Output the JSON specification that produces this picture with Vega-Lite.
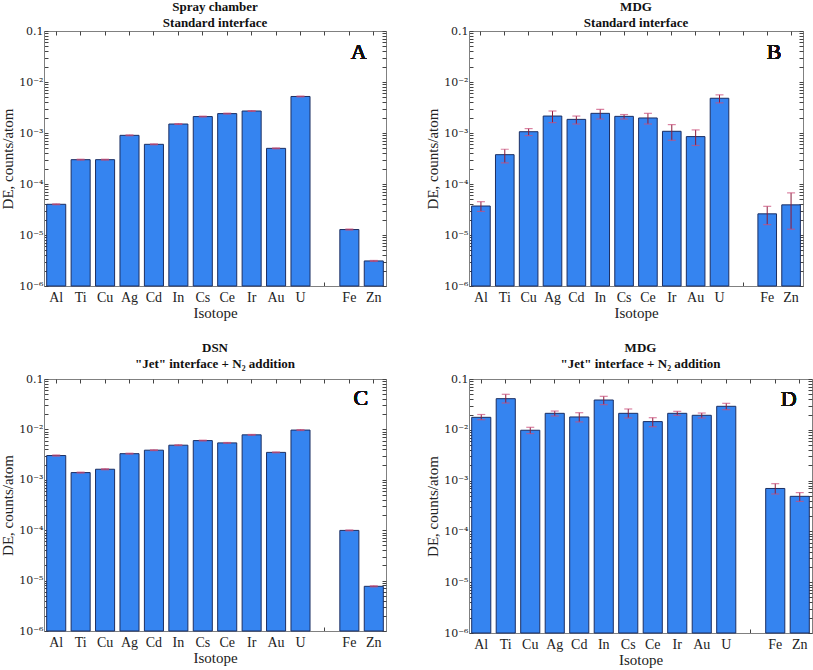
{
  "$schema": "https://vega.github.io/schema/vega-lite/v6.json",
  "background": "white",
  "padding": {"left": 0, "top": 0, "right": 0, "bottom": 2},
  "config": {
    "font": "Liberation Serif",
    "view": {"stroke": "#808080", "strokeWidth": 1},
    "axis": {
      "labelFont": "Liberation Serif", "titleFont": "Liberation Serif",
      "labelFontSize": 14, "titleFontSize": 15, "labelColor": "#222", "titleColor": "#222",
      "titleFontWeight": "normal", "grid": false,
      "domainColor": "#808080", "tickColor": "#444", "tickSize": -4, "labelPadding": 4
    },
    "axisX": {"labelPadding": 8},
    "axisY": {"labelFont": "DejaVu Serif", "labelFontSize": 11, "labelPadding": 5},
    "title": {"font": "Liberation Serif", "fontWeight": "bold", "fontSize": 13, "color": "#111", "offset": -5, "lineHeight": 16}
  },
  "datasets": {
    "A": [
      {"iso": "Al", "de": 0.00004, "lo": 0.0000392, "hi": 0.0000408},
      {"iso": "Ti", "de": 0.0003, "lo": 0.000294, "hi": 0.000306},
      {"iso": "Cu", "de": 0.0003, "lo": 0.000294, "hi": 0.000306},
      {"iso": "Ag", "de": 0.0009, "lo": 0.000882, "hi": 0.000918},
      {"iso": "Cd", "de": 0.0006, "lo": 0.000588, "hi": 0.000612},
      {"iso": "In", "de": 0.0015, "lo": 0.00147, "hi": 0.00153},
      {"iso": "Cs", "de": 0.0021, "lo": 0.00206, "hi": 0.00214},
      {"iso": "Ce", "de": 0.0024, "lo": 0.00235, "hi": 0.00245},
      {"iso": "Ir", "de": 0.0027, "lo": 0.00265, "hi": 0.00275},
      {"iso": "Au", "de": 0.0005, "lo": 0.00049, "hi": 0.00051},
      {"iso": "U", "de": 0.0052, "lo": 0.0051, "hi": 0.0053},
      {"iso": "Fe", "de": 0.0000128, "lo": 0.0000125, "hi": 0.0000131},
      {"iso": "Zn", "de": 0.0000031, "lo": 0.00000303, "hi": 0.00000317}
    ],
    "B": [
      {"iso": "Al", "de": 0.000037, "lo": 0.000029, "hi": 0.000045},
      {"iso": "Ti", "de": 0.000376, "lo": 0.00026, "hi": 0.00048},
      {"iso": "Cu", "de": 0.00106, "lo": 0.00089, "hi": 0.00122},
      {"iso": "Ag", "de": 0.00215, "lo": 0.0016, "hi": 0.0027},
      {"iso": "Cd", "de": 0.00185, "lo": 0.0015, "hi": 0.00215},
      {"iso": "In", "de": 0.00243, "lo": 0.00188, "hi": 0.0029},
      {"iso": "Cs", "de": 0.00212, "lo": 0.00188, "hi": 0.0023},
      {"iso": "Ce", "de": 0.00197, "lo": 0.0015, "hi": 0.00243},
      {"iso": "Ir", "de": 0.00108, "lo": 0.00072, "hi": 0.00146},
      {"iso": "Au", "de": 0.00085, "lo": 0.00057, "hi": 0.00115},
      {"iso": "U", "de": 0.0048, "lo": 0.0039, "hi": 0.0056},
      {"iso": "Fe", "de": 0.000026, "lo": 0.000016, "hi": 0.0000365},
      {"iso": "Zn", "de": 0.000039, "lo": 0.000013, "hi": 0.000067}
    ],
    "C": [
      {"iso": "Al", "de": 0.00303, "lo": 0.00295, "hi": 0.00311},
      {"iso": "Ti", "de": 0.00139, "lo": 0.00136, "hi": 0.00142},
      {"iso": "Cu", "de": 0.00162, "lo": 0.00158, "hi": 0.00166},
      {"iso": "Ag", "de": 0.0033, "lo": 0.00323, "hi": 0.00337},
      {"iso": "Cd", "de": 0.00387, "lo": 0.0038, "hi": 0.00394},
      {"iso": "In", "de": 0.00486, "lo": 0.00476, "hi": 0.00496},
      {"iso": "Cs", "de": 0.006, "lo": 0.00589, "hi": 0.00611},
      {"iso": "Ce", "de": 0.0054, "lo": 0.0053, "hi": 0.0055},
      {"iso": "Ir", "de": 0.0078, "lo": 0.00766, "hi": 0.00794},
      {"iso": "Au", "de": 0.0035, "lo": 0.00343, "hi": 0.00357},
      {"iso": "U", "de": 0.0097, "lo": 0.0095, "hi": 0.0099},
      {"iso": "Fe", "de": 0.000099, "lo": 0.000097, "hi": 0.000101},
      {"iso": "Zn", "de": 0.0000077, "lo": 0.0000075, "hi": 0.0000079}
    ],
    "D": [
      {"iso": "Al", "de": 0.0176, "lo": 0.0158, "hi": 0.02},
      {"iso": "Ti", "de": 0.041, "lo": 0.0337, "hi": 0.05},
      {"iso": "Cu", "de": 0.0098, "lo": 0.0084, "hi": 0.0112},
      {"iso": "Ag", "de": 0.0211, "lo": 0.0187, "hi": 0.0234},
      {"iso": "Cd", "de": 0.0179, "lo": 0.0143, "hi": 0.0217},
      {"iso": "In", "de": 0.0386, "lo": 0.0313, "hi": 0.0456},
      {"iso": "Cs", "de": 0.0211, "lo": 0.0171, "hi": 0.0257},
      {"iso": "Ce", "de": 0.0145, "lo": 0.0115, "hi": 0.0173},
      {"iso": "Ir", "de": 0.0211, "lo": 0.0193, "hi": 0.0231},
      {"iso": "Au", "de": 0.0193, "lo": 0.0171, "hi": 0.0214},
      {"iso": "U", "de": 0.029, "lo": 0.0249, "hi": 0.0332},
      {"iso": "Fe", "de": 0.0007, "lo": 0.000545, "hi": 0.00087},
      {"iso": "Zn", "de": 0.00049, "lo": 0.00039, "hi": 0.00058}
    ]
  },
  "vconcat": [
    {
      "hconcat": [
        {
          "width": 342, "height": 255,
          "title": {"text": ["Spray chamber", "Standard interface"]},
          "data": {"name": "A"},
          "resolve": {"axis": {"x": "independent", "y": "independent"}},
          "layer": [
            {
              "mark": {"type": "bar", "color": "#3584f0", "stroke": "#1c2f63", "strokeWidth": 1},
              "encoding": {
                "x": {"field": "iso", "type": "nominal", "sort": null,
                  "scale": {"domain": ["Al","Ti","Cu","Ag","Cd","In","Cs","Ce","Ir","Au","U"," ","Fe","Zn"], "paddingInner": 0.22, "paddingOuter": 0.11},
                  "axis": {"title": "Isotope", "labelAngle": 0, "orient": "bottom", "titlePadding": 1}},
                "y": {"field": "de", "type": "quantitative",
                  "scale": {"type": "log", "domain": [0.000001, 0.1], "nice": false},
                  "axis": {"title": "DE, counts/atom", "orient": "left", "titlePadding": 3,
                    "values": [0.000001,0.000002,0.000003,0.000004,0.000005,0.000006,0.000007,0.000008,0.000009,0.00001,0.00002,0.00003,0.00004,0.00005,0.00006,0.00007,0.00008,0.00009,0.0001,0.0002,0.0003,0.0004,0.0005,0.0006,0.0007,0.0008,0.0009,0.001,0.002,0.003,0.004,0.005,0.006,0.007,0.008,0.009,0.01,0.02,0.03,0.04,0.05,0.06,0.07,0.08,0.09,0.1],
                    "labelExpr": "datum.value == 0.1 ? '0.1' : datum.value == 0.01 ? '10⁻²' : datum.value == 0.001 ? '10⁻³' : datum.value == 0.0001 ? '10⁻⁴' : datum.value == 0.00001 ? '10⁻⁵' : datum.value == 0.000001 ? '10⁻⁶' : ''"}},
                "y2": {"datum": 0.000001}
              }
            },
            {
              "mark": {"type": "rule", "color": "#8b1a3a", "strokeWidth": 1},
              "encoding": {
                "x": {"field": "iso", "type": "nominal", "sort": null,
                  "axis": {"orient": "top", "labels": false, "title": null, "domain": false}},
                "y": {"field": "lo", "type": "quantitative",
                  "axis": {"orient": "right", "labels": false, "title": null, "domain": false,
                    "values": [0.000001,0.000002,0.000003,0.000004,0.000005,0.000006,0.000007,0.000008,0.000009,0.00001,0.00002,0.00003,0.00004,0.00005,0.00006,0.00007,0.00008,0.00009,0.0001,0.0002,0.0003,0.0004,0.0005,0.0006,0.0007,0.0008,0.0009,0.001,0.002,0.003,0.004,0.005,0.006,0.007,0.008,0.009,0.01,0.02,0.03,0.04,0.05,0.06,0.07,0.08,0.09,0.1]}},
                "y2": {"field": "hi"}
              }
            },
            {
              "mark": {"type": "tick", "color": "#cc4f7a", "size": 8, "thickness": 1.2},
              "encoding": {"x": {"field": "iso", "type": "nominal", "sort": null, "axis": null}, "y": {"field": "lo", "type": "quantitative", "axis": null}}
            },
            {
              "mark": {"type": "tick", "color": "#cc4f7a", "size": 8, "thickness": 1.2},
              "encoding": {"x": {"field": "iso", "type": "nominal", "sort": null, "axis": null}, "y": {"field": "hi", "type": "quantitative", "axis": null}}
            },
            {
              "mark": {"type": "text", "text": "A", "font": "Liberation Serif", "fontWeight": "normal", "fontSize": 22, "color": "#111", "align": "center", "baseline": "middle", "dx": -15},
              "encoding": {"x": {"datum": "Zn", "type": "nominal", "axis": null}, "y": {"datum": 0.039, "type": "quantitative", "axis": null}}
            }
          ]
        },
        {
          "width": 334, "height": 255,
          "title": {"text": ["MDG", "Standard interface"]},
          "data": {"name": "B"},
          "resolve": {"axis": {"x": "independent", "y": "independent"}},
          "layer": [
            {
              "mark": {"type": "bar", "color": "#3584f0", "stroke": "#1c2f63", "strokeWidth": 1},
              "encoding": {
                "x": {"field": "iso", "type": "nominal", "sort": null,
                  "scale": {"domain": ["Al","Ti","Cu","Ag","Cd","In","Cs","Ce","Ir","Au","U"," ","Fe","Zn"], "paddingInner": 0.22, "paddingOuter": 0.11},
                  "axis": {"title": "Isotope", "labelAngle": 0, "orient": "bottom", "titlePadding": 1}},
                "y": {"field": "de", "type": "quantitative",
                  "scale": {"type": "log", "domain": [0.000001, 0.1], "nice": false},
                  "axis": {"title": "DE, counts/atom", "orient": "left", "titlePadding": 3,
                    "values": [0.000001,0.000002,0.000003,0.000004,0.000005,0.000006,0.000007,0.000008,0.000009,0.00001,0.00002,0.00003,0.00004,0.00005,0.00006,0.00007,0.00008,0.00009,0.0001,0.0002,0.0003,0.0004,0.0005,0.0006,0.0007,0.0008,0.0009,0.001,0.002,0.003,0.004,0.005,0.006,0.007,0.008,0.009,0.01,0.02,0.03,0.04,0.05,0.06,0.07,0.08,0.09,0.1],
                    "labelExpr": "datum.value == 0.1 ? '0.1' : datum.value == 0.01 ? '10⁻²' : datum.value == 0.001 ? '10⁻³' : datum.value == 0.0001 ? '10⁻⁴' : datum.value == 0.00001 ? '10⁻⁵' : datum.value == 0.000001 ? '10⁻⁶' : ''"}},
                "y2": {"datum": 0.000001}
              }
            },
            {
              "mark": {"type": "rule", "color": "#8b1a3a", "strokeWidth": 1},
              "encoding": {
                "x": {"field": "iso", "type": "nominal", "sort": null,
                  "axis": {"orient": "top", "labels": false, "title": null, "domain": false}},
                "y": {"field": "lo", "type": "quantitative",
                  "axis": {"orient": "right", "labels": false, "title": null, "domain": false,
                    "values": [0.000001,0.000002,0.000003,0.000004,0.000005,0.000006,0.000007,0.000008,0.000009,0.00001,0.00002,0.00003,0.00004,0.00005,0.00006,0.00007,0.00008,0.00009,0.0001,0.0002,0.0003,0.0004,0.0005,0.0006,0.0007,0.0008,0.0009,0.001,0.002,0.003,0.004,0.005,0.006,0.007,0.008,0.009,0.01,0.02,0.03,0.04,0.05,0.06,0.07,0.08,0.09,0.1]}},
                "y2": {"field": "hi"}
              }
            },
            {
              "mark": {"type": "tick", "color": "#cc4f7a", "size": 8, "thickness": 1.2},
              "encoding": {"x": {"field": "iso", "type": "nominal", "sort": null, "axis": null}, "y": {"field": "lo", "type": "quantitative", "axis": null}}
            },
            {
              "mark": {"type": "tick", "color": "#cc4f7a", "size": 8, "thickness": 1.2},
              "encoding": {"x": {"field": "iso", "type": "nominal", "sort": null, "axis": null}, "y": {"field": "hi", "type": "quantitative", "axis": null}}
            },
            {
              "mark": {"type": "text", "text": "B", "font": "Liberation Serif", "fontWeight": "normal", "fontSize": 22, "color": "#111", "align": "center", "baseline": "middle", "dx": -17},
              "encoding": {"x": {"datum": "Zn", "type": "nominal", "axis": null}, "y": {"datum": 0.039, "type": "quantitative", "axis": null}}
            }
          ]
        }
      ],
      "spacing": 38
    },
    {
      "hconcat": [
        {
          "width": 342, "height": 252,
          "title": {"text": ["DSN", "\"Jet\" interface + N₂ addition"], "offset": 2},
          "data": {"name": "C"},
          "resolve": {"axis": {"x": "independent", "y": "independent"}},
          "layer": [
            {
              "mark": {"type": "bar", "color": "#3584f0", "stroke": "#1c2f63", "strokeWidth": 1},
              "encoding": {
                "x": {"field": "iso", "type": "nominal", "sort": null,
                  "scale": {"domain": ["Al","Ti","Cu","Ag","Cd","In","Cs","Ce","Ir","Au","U"," ","Fe","Zn"], "paddingInner": 0.22, "paddingOuter": 0.11},
                  "axis": {"title": "Isotope", "labelAngle": 0, "orient": "bottom", "titlePadding": 1}},
                "y": {"field": "de", "type": "quantitative",
                  "scale": {"type": "log", "domain": [0.000001, 0.1], "nice": false},
                  "axis": {"title": "DE, counts/atom", "orient": "left", "titlePadding": 3,
                    "values": [0.000001,0.000002,0.000003,0.000004,0.000005,0.000006,0.000007,0.000008,0.000009,0.00001,0.00002,0.00003,0.00004,0.00005,0.00006,0.00007,0.00008,0.00009,0.0001,0.0002,0.0003,0.0004,0.0005,0.0006,0.0007,0.0008,0.0009,0.001,0.002,0.003,0.004,0.005,0.006,0.007,0.008,0.009,0.01,0.02,0.03,0.04,0.05,0.06,0.07,0.08,0.09,0.1],
                    "labelExpr": "datum.value == 0.1 ? '0.1' : datum.value == 0.01 ? '10⁻²' : datum.value == 0.001 ? '10⁻³' : datum.value == 0.0001 ? '10⁻⁴' : datum.value == 0.00001 ? '10⁻⁵' : datum.value == 0.000001 ? '10⁻⁶' : ''"}},
                "y2": {"datum": 0.000001}
              }
            },
            {
              "mark": {"type": "rule", "color": "#8b1a3a", "strokeWidth": 1},
              "encoding": {
                "x": {"field": "iso", "type": "nominal", "sort": null,
                  "axis": {"orient": "top", "labels": false, "title": null, "domain": false}},
                "y": {"field": "lo", "type": "quantitative",
                  "axis": {"orient": "right", "labels": false, "title": null, "domain": false,
                    "values": [0.000001,0.000002,0.000003,0.000004,0.000005,0.000006,0.000007,0.000008,0.000009,0.00001,0.00002,0.00003,0.00004,0.00005,0.00006,0.00007,0.00008,0.00009,0.0001,0.0002,0.0003,0.0004,0.0005,0.0006,0.0007,0.0008,0.0009,0.001,0.002,0.003,0.004,0.005,0.006,0.007,0.008,0.009,0.01,0.02,0.03,0.04,0.05,0.06,0.07,0.08,0.09,0.1]}},
                "y2": {"field": "hi"}
              }
            },
            {
              "mark": {"type": "tick", "color": "#cc4f7a", "size": 8, "thickness": 1.2},
              "encoding": {"x": {"field": "iso", "type": "nominal", "sort": null, "axis": null}, "y": {"field": "lo", "type": "quantitative", "axis": null}}
            },
            {
              "mark": {"type": "tick", "color": "#cc4f7a", "size": 8, "thickness": 1.2},
              "encoding": {"x": {"field": "iso", "type": "nominal", "sort": null, "axis": null}, "y": {"field": "hi", "type": "quantitative", "axis": null}}
            },
            {
              "mark": {"type": "text", "text": "C", "font": "Liberation Serif", "fontWeight": "normal", "fontSize": 22, "color": "#111", "align": "center", "baseline": "middle", "dx": -13},
              "encoding": {"x": {"datum": "Zn", "type": "nominal", "axis": null}, "y": {"datum": 0.042, "type": "quantitative", "axis": null}}
            }
          ]
        },
        {
          "width": 343, "height": 254,
          "title": {"text": ["MDG", "\"Jet\" interface + N₂ addition"], "offset": 2},
          "data": {"name": "D"},
          "resolve": {"axis": {"x": "independent", "y": "independent"}},
          "layer": [
            {
              "mark": {"type": "bar", "color": "#3584f0", "stroke": "#1c2f63", "strokeWidth": 1},
              "encoding": {
                "x": {"field": "iso", "type": "nominal", "sort": null,
                  "scale": {"domain": ["Al","Ti","Cu","Ag","Cd","In","Cs","Ce","Ir","Au","U"," ","Fe","Zn"], "paddingInner": 0.22, "paddingOuter": 0.11},
                  "axis": {"title": "Isotope", "labelAngle": 0, "orient": "bottom", "titlePadding": 1}},
                "y": {"field": "de", "type": "quantitative",
                  "scale": {"type": "log", "domain": [0.000001, 0.1], "nice": false},
                  "axis": {"title": "DE, counts/atom", "orient": "left", "titlePadding": 3,
                    "values": [0.000001,0.000002,0.000003,0.000004,0.000005,0.000006,0.000007,0.000008,0.000009,0.00001,0.00002,0.00003,0.00004,0.00005,0.00006,0.00007,0.00008,0.00009,0.0001,0.0002,0.0003,0.0004,0.0005,0.0006,0.0007,0.0008,0.0009,0.001,0.002,0.003,0.004,0.005,0.006,0.007,0.008,0.009,0.01,0.02,0.03,0.04,0.05,0.06,0.07,0.08,0.09,0.1],
                    "labelExpr": "datum.value == 0.1 ? '0.1' : datum.value == 0.01 ? '10⁻²' : datum.value == 0.001 ? '10⁻³' : datum.value == 0.0001 ? '10⁻⁴' : datum.value == 0.00001 ? '10⁻⁵' : datum.value == 0.000001 ? '10⁻⁶' : ''"}},
                "y2": {"datum": 0.000001}
              }
            },
            {
              "mark": {"type": "rule", "color": "#8b1a3a", "strokeWidth": 1},
              "encoding": {
                "x": {"field": "iso", "type": "nominal", "sort": null,
                  "axis": {"orient": "top", "labels": false, "title": null, "domain": false}},
                "y": {"field": "lo", "type": "quantitative",
                  "axis": {"orient": "right", "labels": false, "title": null, "domain": false,
                    "values": [0.000001,0.000002,0.000003,0.000004,0.000005,0.000006,0.000007,0.000008,0.000009,0.00001,0.00002,0.00003,0.00004,0.00005,0.00006,0.00007,0.00008,0.00009,0.0001,0.0002,0.0003,0.0004,0.0005,0.0006,0.0007,0.0008,0.0009,0.001,0.002,0.003,0.004,0.005,0.006,0.007,0.008,0.009,0.01,0.02,0.03,0.04,0.05,0.06,0.07,0.08,0.09,0.1]}},
                "y2": {"field": "hi"}
              }
            },
            {
              "mark": {"type": "tick", "color": "#cc4f7a", "size": 8, "thickness": 1.2},
              "encoding": {"x": {"field": "iso", "type": "nominal", "sort": null, "axis": null}, "y": {"field": "lo", "type": "quantitative", "axis": null}}
            },
            {
              "mark": {"type": "tick", "color": "#cc4f7a", "size": 8, "thickness": 1.2},
              "encoding": {"x": {"field": "iso", "type": "nominal", "sort": null, "axis": null}, "y": {"field": "hi", "type": "quantitative", "axis": null}}
            },
            {
              "mark": {"type": "text", "text": "D", "font": "Liberation Serif", "fontWeight": "normal", "fontSize": 22, "color": "#111", "align": "center", "baseline": "middle", "dx": -11},
              "encoding": {"x": {"datum": "Zn", "type": "nominal", "axis": null}, "y": {"datum": 0.04, "type": "quantitative", "axis": null}}
            }
          ]
        }
      ],
      "spacing": 38
    }
  ],
  "spacing": 20
}
